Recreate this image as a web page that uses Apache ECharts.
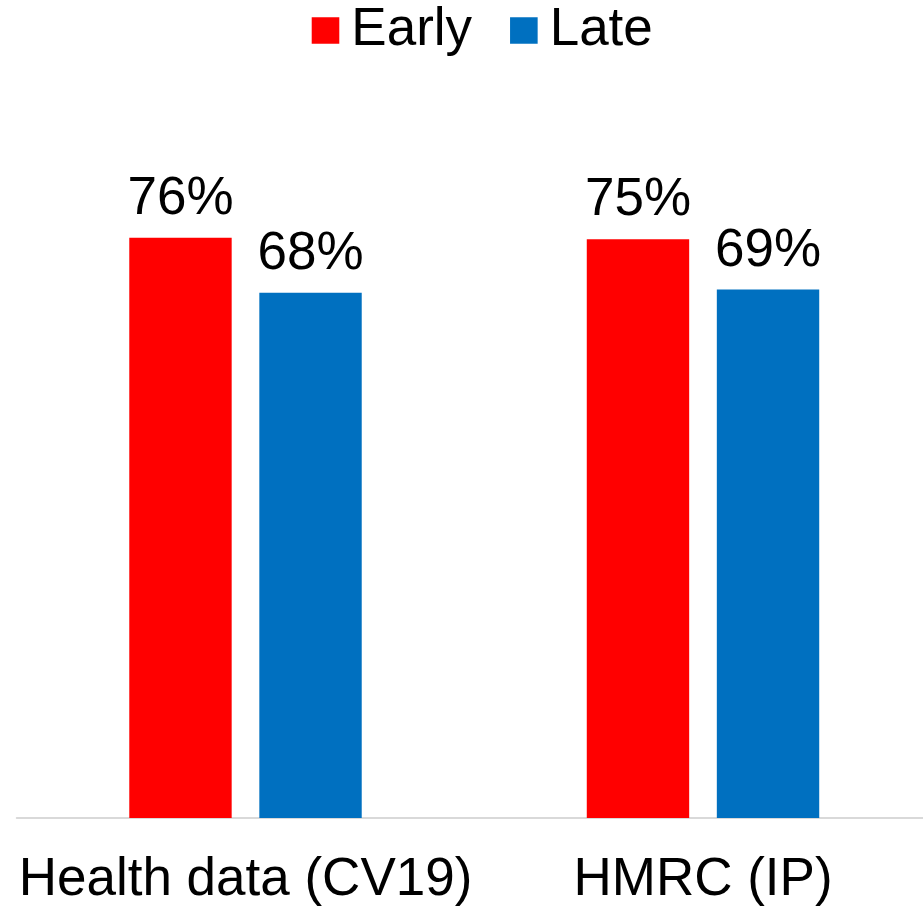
<!DOCTYPE html>
<html><head><meta charset="utf-8">
<script src="https://cdn.jsdelivr.net/npm/echarts@6/dist/echarts.min.js"></script>
<style>html,body{margin:0;padding:0;background:#fff}#c{width:923px;height:907px}</style>
</head><body><div id="c"></div>
<script>
const categories = ['Health data (CV19)', 'HMRC (IP)'];
const seriesNames = ['Early', 'Late'];
const earlyValues = [76.1, 75.9];
const lateValues = [68.9, 69.3];
const colors = ['#ff0000', '#0070c0'];
const FONT = 'Arial, "Liberation Sans", sans-serif';

const chart = echarts.init(document.getElementById('c'), null, {renderer: 'canvas'});
const labelOpt = {
  show: true, position: 'top', distance: 12,
  color: '#000', fontSize: 53, fontFamily: FONT,
  formatter: p => Math.floor(p.value) + '%'
};
chart.setOption({
  animation: false,
  backgroundColor: '#fff',
  textStyle: {fontFamily: FONT},
  legend: {
    left: 311.7, top: 4, padding: 0,
    icon: 'rect', itemWidth: 27.6, itemHeight: 26.5, itemGap: 38,
    textStyle: {fontSize: 53, color: '#000', fontFamily: FONT, padding: [0, 0, 0, 7]},
    data: seriesNames
  },
  grid: {left: 16.75, right: -8.75, top: 55.5, bottom: 89, containLabel: false, outerBoundsMode: 'none'},
  xAxis: {
    type: 'category', data: categories,
    axisLine: {lineStyle: {color: '#d9d9d9', width: 2}},
    axisTick: {show: false},
    axisLabel: {fontSize: 53, color: '#000', fontFamily: FONT, margin: 36, interval: 0}
  },
  yAxis: {type: 'value', min: 0, max: 100, show: false, splitLine: {show: false}},
  series: [
    {name: seriesNames[0], type: 'bar', data: earlyValues, barWidth: 102.4, barGap: '27%',
     itemStyle: {color: colors[0]}, label: labelOpt},
    {name: seriesNames[1], type: 'bar', data: lateValues, barWidth: 102.4, barGap: '27%',
     itemStyle: {color: colors[1]}, label: labelOpt}
  ]
});
</script></body></html>
